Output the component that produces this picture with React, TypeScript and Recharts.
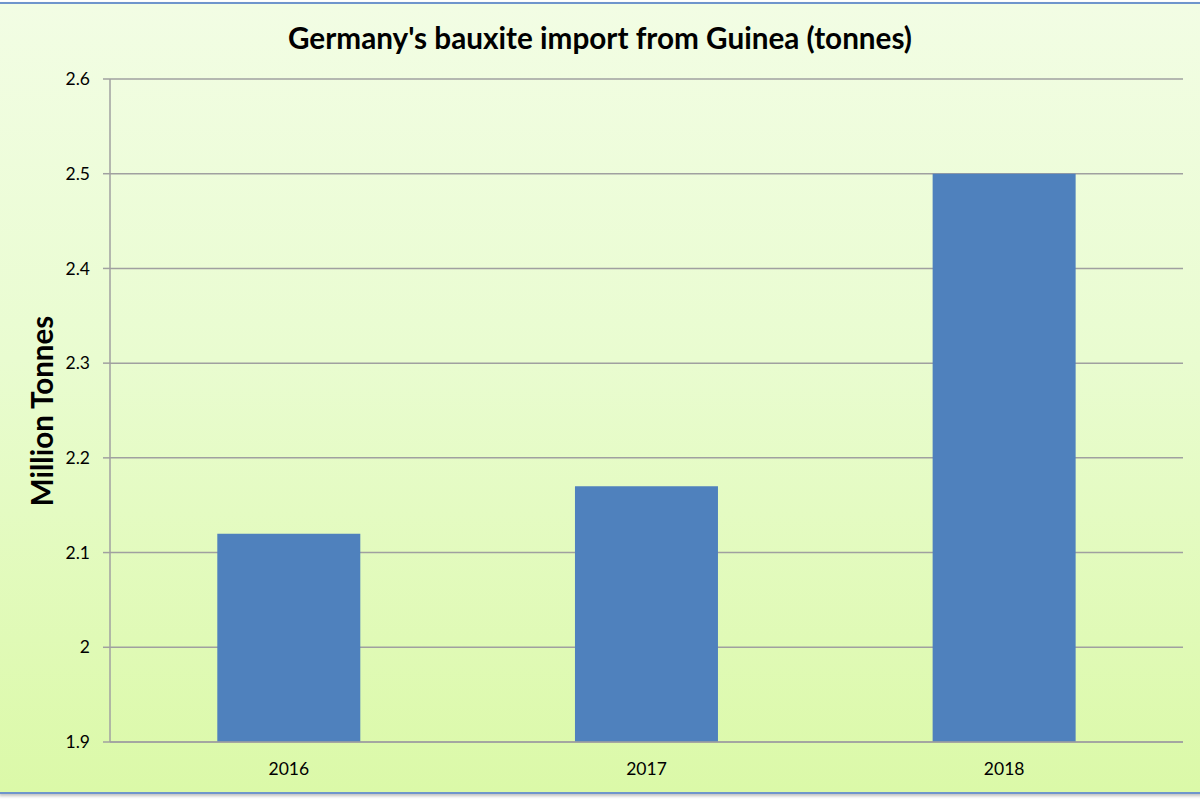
import React from "react";
import { BarChart, Bar, XAxis, YAxis, CartesianGrid } from "recharts";

const years = ["2016", "2017", "2018"];
const imports = [2.12, 2.17, 2.5];
const yTicks = [1.9, 2.0, 2.1, 2.2, 2.3, 2.4, 2.5, 2.6];
const title = "Germany's bauxite import from Guinea (tonnes)";
const yLabel = "Million Tonnes";

const data = years.map((y, i) => ({ year: y, value: imports[i] }));

const FONT = "Lato, 'Open Sans', sans-serif";

export default function App() {
  return (
    <div style={{ position: "absolute", left: 0, top: 0, width: 1200, height: 800, background: "#ffffff", fontFamily: FONT, overflow: "hidden" }}>
      <div
        style={{
          position: "absolute",
          left: -1,
          top: 2,
          width: 1210,
          height: 788,
          borderTop: "2px solid #6f95cc",
          borderBottom: "2px solid #6f95cc",
          boxShadow: "0 2px 3px rgba(0,0,0,0.25)",
          background: "linear-gradient(to bottom, #f2fde4 0%, #e9fcd0 45%, #dbf9a8 100%)",
        }}
      />
      <div style={{ position: "absolute", left: 0, top: 0 }}>
        <BarChart width={1200} height={800} data={data} margin={{ top: 79, right: 17, left: 0, bottom: 0 }} barCategoryGap="30%">
          <CartesianGrid vertical={false} stroke="#a0a0a0" strokeWidth={1.5} />
          <XAxis
            dataKey="year"
            height={58}
            tickLine={false}
            tickSize={0}
            tickMargin={21}
            axisLine={{ stroke: "#a0a0a0", strokeWidth: 1.5 }}
            tick={{ fill: "#000000", fontSize: 17.5, fontFamily: FONT }}
          />
          <YAxis
            width={110}
            domain={[1.9, 2.6]}
            ticks={yTicks}
            interval={0}
            tickSize={7}
            tickMargin={13}
            allowDataOverflow
            tickFormatter={(v: number) => String(Number(v.toFixed(1)))}
            tickLine={{ stroke: "#a0a0a0", strokeWidth: 1.5 }}
            axisLine={{ stroke: "#a0a0a0", strokeWidth: 1.5 }}
            tick={{ fill: "#000000", fontSize: 17.5, fontFamily: FONT }}
          />
          <Bar dataKey="value" fill="#4f81bd" isAnimationActive={false} />
        </BarChart>
      </div>
      <div
        style={{
          position: "absolute",
          left: 0,
          top: 19,
          width: 1200,
          textAlign: "center",
          fontSize: 29.7,
          fontWeight: 700,
          color: "#000",
          lineHeight: "38px",
        }}
      >
        {title}
      </div>
      <div
        style={{
          position: "absolute",
          left: 42,
          top: 411,
          transform: "translate(-50%, -50%) rotate(-90deg)",
          whiteSpace: "nowrap",
          fontSize: 29.5,
          fontWeight: 700,
          color: "#000",
          lineHeight: "34px",
        }}
      >
        {yLabel}
      </div>
    </div>
  );
}
